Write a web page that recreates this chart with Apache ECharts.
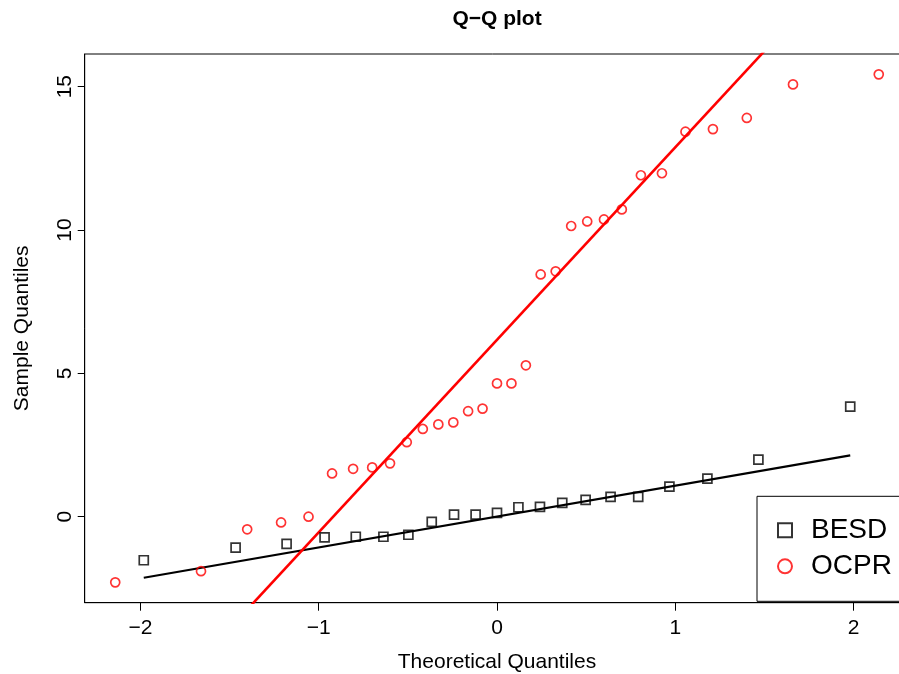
<!DOCTYPE html>
<html>
<head>
<meta charset="utf-8">
<script src="https://cdn.jsdelivr.net/npm/echarts@6/dist/echarts.min.js"></script>
<style>
html,body{margin:0;padding:0;background:#fff;}
#chart{width:899px;height:674px;}
</style>
</head>
<body>
<div id="chart"></div>
<script>
// Theoretical quantiles and sample quantiles
var besdX = [-1.981,-1.466,-1.180,-0.967,-0.792,-0.637,-0.497,-0.366,-0.241,-0.120,0,0.120,0.241,0.366,0.497,0.637,0.792,0.967,1.180,1.466,1.981];
var besdY = [-1.52,-1.08,-0.95,-0.72,-0.70,-0.70,-0.63,-0.18,0.07,0.07,0.13,0.33,0.34,0.48,0.59,0.69,0.69,1.05,1.33,1.99,3.84];
var ocprX = [-2.141,-1.660,-1.401,-1.211,-1.057,-0.925,-0.807,-0.700,-0.600,-0.506,-0.416,-0.329,-0.245,-0.162,-0.081,0,0.081,0.162,0.245,0.329,0.416,0.506,0.600,0.700,0.807,0.925,1.057,1.211,1.401,1.660,2.141];
var ocprY = [-2.29,-1.90,-0.44,-0.20,0.00,1.51,1.67,1.72,1.86,2.60,3.06,3.22,3.29,3.68,3.77,4.65,4.65,5.28,8.45,8.56,10.14,10.30,10.37,10.72,11.91,11.98,13.43,13.52,13.91,15.08,15.43];
// reference lines (endpoints)
var besdLineX = [-1.981, 1.981];
var besdLineY = [-2.13, 2.14];
var ocprLineX = [-2.3123, 2.3123];
var ocprLineY = [-9.36, 21.70];
// axis ticks
var xTicks = [-2,-1,0,1,2];
var yTicks = [0,5,10,15];
var xRange = [-2.3123, 2.3123];
var yRange = [-3.0, 16.14];
var seriesNames = ['BESD','OCPR'];
var titleText = 'Q\u2212Q plot';
var xName = 'Theoretical Quantiles';
var yName = 'Sample Quantiles';

function pairs(xs, ys){ return xs.map(function(x,i){ return [x, ys[i]]; }); }
function fmt(v){ return v < 0 ? '\u2212' + Math.abs(v) : String(v); }

var FONT = '"Liberation Sans", Arial, Helvetica, sans-serif';
var chart = echarts.init(document.getElementById('chart'));
chart.setOption({
  animation: false,
  backgroundColor: '#fff',
  textStyle: {fontFamily: FONT},
  graphic: [{
    type: 'text', x: 497, y: 19,
    style: {text: titleText, x: 0, y: 0, font: 'bold 21px ' + FONT, fill: '#000', textAlign: 'center', textVerticalAlign: 'middle'}
  }],
  grid: {left: 84.7, top: 54, width: 824.6, height: 548.7, show: true, borderColor: '#000', borderWidth: 1,
         backgroundColor: 'transparent', containLabel: false, outerBoundsMode: 'none'},
  xAxis: {
    type: 'value', min: xRange[0], max: xRange[1],
    axisLine: {show: true, onZero: false, lineStyle: {color: '#000', width: 1}},
    axisTick: {show: true, customValues: xTicks, length: 8, lineStyle: {color: '#000'}},
    axisLabel: {customValues: xTicks, formatter: fmt, fontSize: 21, color: '#000', margin: 15, fontFamily: FONT},
    splitLine: {show: false},
    name: xName, nameLocation: 'middle', nameGap: 49,
    nameTextStyle: {fontSize: 21, color: '#000', fontFamily: FONT}
  },
  yAxis: {
    type: 'value', min: yRange[0], max: yRange[1],
    axisLine: {show: true, onZero: false, lineStyle: {color: '#000', width: 1}},
    axisTick: {show: true, customValues: yTicks, length: 7, lineStyle: {color: '#000'}},
    axisLabel: {customValues: yTicks, formatter: fmt, fontSize: 21, color: '#000', margin: 9, rotate: 90, fontFamily: FONT},
    splitLine: {show: false},
    name: yName, nameLocation: 'middle', nameGap: 52,
    nameTextStyle: {fontSize: 21, color: '#000', fontFamily: FONT}
  },
  legend: {
    show: true, orient: 'vertical', left: 757, top: 496.3,
    padding: [19, 80, 20, 20], itemGap: 6, itemWidth: 14, itemHeight: 14,
    borderColor: '#000', borderWidth: 1, backgroundColor: '#fff',
    textStyle: {fontSize: 28, color: '#000', lineHeight: 30, padding: [0,0,0,14], fontFamily: FONT},
    data: [
      {name: seriesNames[0], icon: 'rect', itemStyle: {color: 'rgba(0,0,0,0)', borderColor: '#000', borderWidth: 2}},
      {name: seriesNames[1], icon: 'circle', itemStyle: {color: 'rgba(0,0,0,0)', borderColor: '#f00', borderWidth: 2}}
    ]
  },
  series: [
    {name: 'BESD line', type: 'line', data: pairs(besdLineX, besdLineY), showSymbol: false, symbol: 'none',
     lineStyle: {color: '#000', width: 2.2}, clip: true, z: 3},
    {name: 'OCPR line', type: 'line', data: pairs(ocprLineX, ocprLineY), showSymbol: false, symbol: 'none',
     lineStyle: {color: '#f00', width: 2.6}, clip: true, z: 3},
    {name: seriesNames[0], type: 'scatter', data: pairs(besdX, besdY), symbol: 'rect', symbolSize: 9,
     itemStyle: {color: 'rgba(0,0,0,0)', borderColor: '#000', borderWidth: 1.7}, z: 4},
    {name: seriesNames[1], type: 'scatter', data: pairs(ocprX, ocprY), symbol: 'circle', symbolSize: 9,
     itemStyle: {color: 'rgba(0,0,0,0)', borderColor: '#f00', borderWidth: 1.7}, z: 4}
  ]
});
</script>
</body>
</html>
